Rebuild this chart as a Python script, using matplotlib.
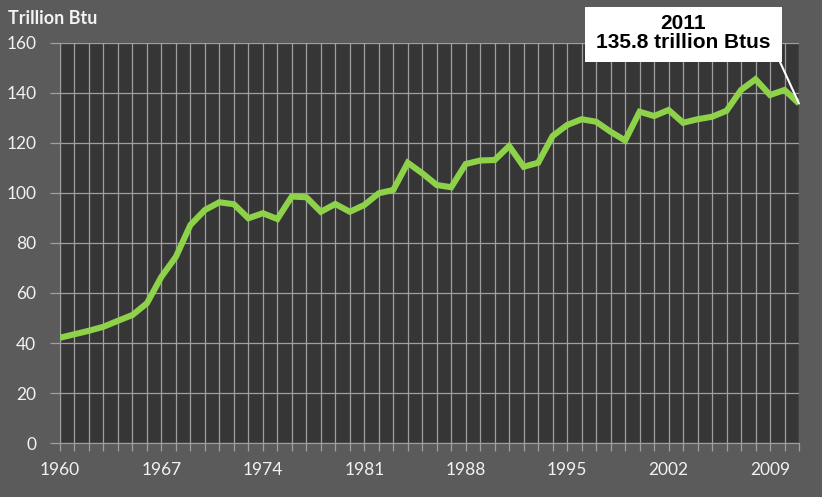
import matplotlib
matplotlib.use("Agg")
import matplotlib.pyplot as plt

years = list(range(1960, 2012))
values = [42.1, 43.5, 44.9, 46.5, 48.9, 51.2, 55.9, 66.5, 74.5, 87.2,
          93.2, 96.3, 95.5, 89.9, 91.9, 89.6, 98.6, 98.3, 92.5, 95.6,
          92.5, 95.2, 99.9, 101.2, 112.1, 107.9, 103.2, 102.3, 111.6, 113.0,
          113.2, 118.8, 110.5, 112.1, 122.8, 127.2, 129.5, 128.5, 124.5, 121.0,
          132.5, 130.8, 133.2, 128.1, 129.5, 130.5, 132.9, 141.2, 145.5, 139.2,
          141.2, 135.8]
xtick_years = [1960, 1967, 1974, 1981, 1988, 1995, 2002, 2009]
yticks = [0, 20, 40, 60, 80, 100, 120, 140, 160]
y_title = "Trillion Btu"
callout_text = "2011\n135.8 trillion Btus"

W, H = 822, 497
fig = plt.figure(figsize=(W / 100, H / 100), dpi=100)
fig.patch.set_facecolor("#5b5b5b")

ax = fig.add_axes([60 / W, 1 - 443 / H, (799 - 60) / W, (443 - 43) / H])
ax.set_facecolor("#363636")
ax.set_xlim(1960, 2011)
ax.set_ylim(0, 160)

grid_c = "#a0a0a0"
ax.set_xticks(years, minor=True)
ax.set_xticks(xtick_years)
ax.set_yticks(yticks)
ax.grid(True, which="both", axis="x", color=grid_c, lw=0.9)
ax.grid(True, which="major", axis="y", color=grid_c, lw=0.9)
ax.set_axisbelow(True)
for s in ax.spines.values():
    s.set_visible(False)
ax.spines["bottom"].set_visible(True)
ax.spines["bottom"].set_color(grid_c)
ax.spines["left"].set_visible(True)
ax.spines["left"].set_color(grid_c)

ax.tick_params(axis="x", which="both", length=6, color=grid_c, width=0.9,
               pad=8, labelsize=12.5, labelcolor="#f2f2f2")
ax.tick_params(axis="y", which="major", length=7, color=grid_c, width=0.9,
               pad=10, labelsize=12.5, labelcolor="#f2f2f2")
for lab in ax.get_xticklabels() + ax.get_yticklabels():
    lab.set_family("Lato")

ax.plot(years, values, color="#8ed24a", lw=4.4, solid_joinstyle="miter",
        solid_capstyle="butt", zorder=3)

fig.text(8 / W, 1 - 18 / H, y_title, color="#f2f2f2", fontsize=13,
         fontweight="bold", family="Lato", va="center", ha="left")

# callout box
bx0, bx1, by0, by1 = 585, 782, 7, 62
fig.patches.append(plt.Rectangle((bx0 / W, 1 - by1 / H), (bx1 - bx0) / W,
                                 (by1 - by0) / H, transform=fig.transFigure,
                                 facecolor="white", edgecolor="none", zorder=5))
fig.text((bx0 + bx1) / 2 / W, 1 - 33 / H, callout_text, color="black",
         fontsize=15, fontweight="bold", family="Liberation Sans",
         ha="center", va="center", linespacing=1.05, zorder=6)

# connector line from box to last data point
ax.annotate("", xy=(years[-1], values[-1]), xycoords="data",
            xytext=((bx1 - 2) / W, 1 - by1 / H), textcoords="figure fraction",
            arrowprops=dict(arrowstyle="-", color="white", lw=1.5,
                            shrinkA=0, shrinkB=0), zorder=6,
            annotation_clip=False)

fig.savefig("out.png", dpi=100, facecolor=fig.get_facecolor())
